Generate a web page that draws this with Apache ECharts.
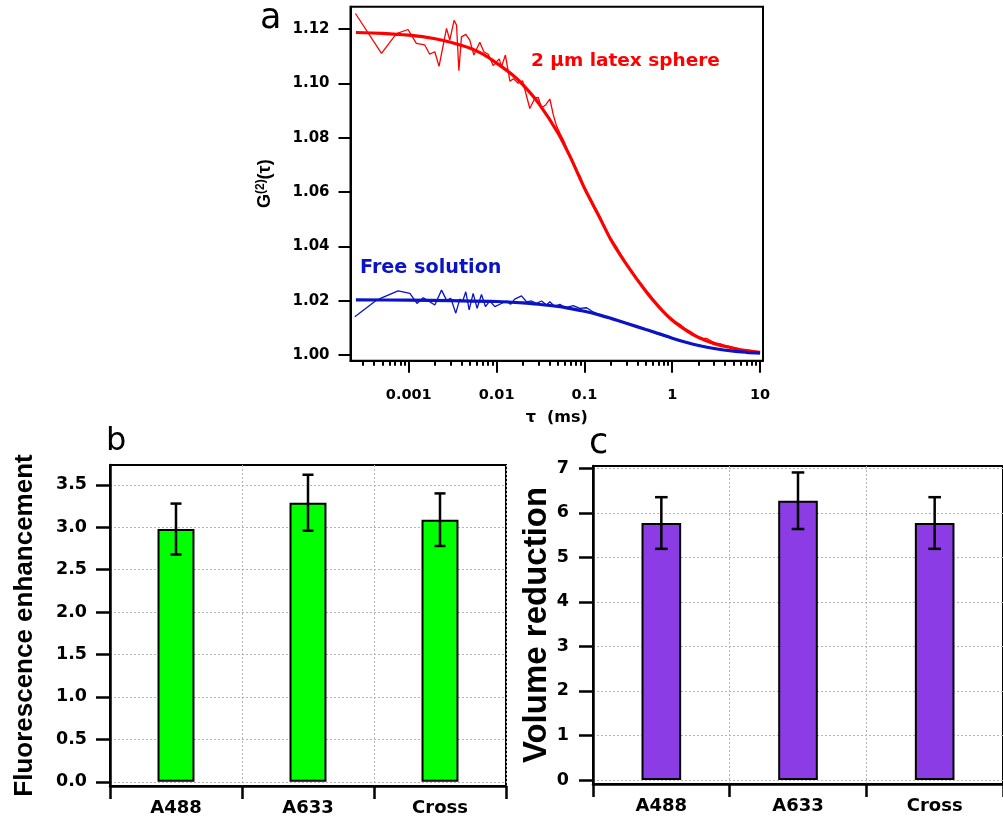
<!DOCTYPE html>
<html><head><meta charset="utf-8">
<script src="https://cdn.jsdelivr.net/npm/echarts@6/dist/echarts.min.js"></script>
<style>html,body{margin:0;padding:0;background:#fff}#c{width:1003px;height:823px}</style>
</head><body><div id="c"></div>
<script>
// ---------- panel a : correlation curves ----------
const redDataTau = [2.47e-4,4.89e-4,7.24e-4,9.8e-4,1.22e-3,1.52e-3,1.73e-3,1.98e-3,2.21e-3,2.69e-3,2.93e-3,3.28e-3,3.50e-3,3.72e-3,3.98e-3,4.46e-3,4.95e-3,5.51e-3,6.44e-3,7.16e-3,8.02e-3,9.14e-3,1.07e-2,1.14e-2,1.26e-2,1.42e-2,1.55e-2,1.76e-2,1.98e-2,2.10e-2,2.39e-2,2.73e-2,2.98e-2,3.25e-2,3.64e-2,4.04e-2,4.41e-2,0.048,0.053,0.058,0.064,0.070,0.077,0.084,0.089,0.095,0.100,0.106,0.113,0.125,0.14,0.155,0.17,0.19,0.21,0.23,0.26,0.29,0.32,0.36,0.40,0.45,0.50,0.56,0.63,0.71,0.80,0.90,1.0,1.12,1.26,1.41,1.58,1.78,2.0,2.24,2.51,2.82,3.16,3.55,3.98,4.47,5.01,5.62,6.31,7.08,7.94,8.91,10.0];
const redDataG = [1.1258,1.1111,1.1184,1.1199,1.1148,1.1142,1.1108,1.1117,1.1063,1.1203,1.1160,1.1233,1.1215,1.1047,1.1172,1.1181,1.1160,1.1105,1.1152,1.1117,1.1108,1.1066,1.1091,1.1063,1.1105,1.1008,1.1018,1.1001,1.1010,1.0977,1.0908,1.0947,1.0949,1.0910,1.0922,1.0943,1.0886,1.0845,1.0815,1.0790,1.0755,1.0730,1.0700,1.0672,1.0660,1.0635,1.0615,1.0593,1.0582,1.0556,1.0528,1.0500,1.0472,1.0440,1.0418,1.0400,1.0368,1.0342,1.0325,1.0300,1.0278,1.0258,1.0240,1.0220,1.0200,1.0180,1.0160,1.0145,1.0133,1.0120,1.0110,1.0096,1.0088,1.0076,1.0068,1.0062,1.0060,1.0050,1.0044,1.0041,1.0034,1.0032,1.0027,1.0023,1.0019,1.0018,1.0014,1.0012,1.0010];
const redFitTau = [0.00025,0.0005,0.001,0.002,0.003,0.005,0.007,0.01,0.015,0.02,0.03,0.05,0.07,0.1,0.15,0.2,0.3,0.5,0.7,1,1.5,2,3,5,7,10];
const redFitG = [1.1188,1.1185,1.1178,1.1165,1.1152,1.1130,1.1108,1.1075,1.1033,1.0995,1.0928,1.0818,1.0725,1.0615,1.0505,1.0425,1.0335,1.0235,1.0178,1.0128,1.0087,1.0064,1.0042,1.0025,1.0016,1.0010];
const blueDataTau = [2.43e-4,4.28e-4,7.55e-4,1.03e-3,1.24e-3,1.46e-3,1.62e-3,1.98e-3,2.36e-3,2.69e-3,3.01e-3,3.43e-3,3.81e-3,4.09e-3,4.46e-3,4.87e-3,5.41e-3,6.0e-3,6.73e-3,7.48e-3,8.37e-3,9.55e-3,1.09e-2,1.30e-2,1.44e-2,1.61e-2,1.92e-2,2.19e-2,2.50e-2,2.85e-2,3.25e-2,3.71e-2,4.04e-2,4.61e-2,5.26e-2,6.0e-2,7.45e-2,8.89e-2,0.106,0.121,0.14,0.16,0.195,0.22,0.26,0.30,0.36,0.43,0.50,0.58,0.66,0.75,0.87,1.0,1.2,1.4,1.7,2.0,2.5,3.0,3.6,4.3,5.2,6.2,7.5,8.9,10];
const blueDataG = [1.0141,1.0202,1.0236,1.0227,1.0190,1.0211,1.0202,1.0184,1.0239,1.0202,1.0209,1.0154,1.0206,1.0196,1.0233,1.0166,1.0227,1.0172,1.0223,1.0178,1.0199,1.0178,1.0187,1.0199,1.0187,1.0206,1.0218,1.0196,1.0199,1.0190,1.0199,1.0184,1.0196,1.0178,1.0187,1.0174,1.0182,1.0172,1.0174,1.0162,1.0152,1.0145,1.0135,1.0130,1.0122,1.0117,1.0108,1.0100,1.0094,1.0085,1.0078,1.0072,1.0066,1.0061,1.0053,1.0047,1.0041,1.0036,1.0029,1.0025,1.0020,1.0017,1.0014,1.0011,1.0009,1.0008,1.0007];
const blueFitTau = [0.00025,0.001,0.003,0.01,0.02,0.03,0.05,0.07,0.1,0.15,0.2,0.3,0.5,0.7,1,1.5,2,3,5,7,10];
const blueFitG = [1.0203,1.0202,1.0200,1.0197,1.0192,1.0187,1.0179,1.0171,1.0161,1.0147,1.0135,1.0117,1.0094,1.0079,1.0062,1.0045,1.0035,1.0024,1.0014,1.0010,1.0007];
const aXMajorTicks = [0.001,0.01,0.1,1,10];
const aXMinorTicks = [3e-4,4e-4,5e-4,6e-4,7e-4,8e-4,9e-4,2e-3,3e-3,4e-3,5e-3,6e-3,7e-3,8e-3,9e-3,0.02,0.03,0.04,0.05,0.06,0.07,0.08,0.09,0.2,0.3,0.4,0.5,0.6,0.7,0.8,0.9,2,3,4,5,6,7,8,9];
const aYTicks = [1.00,1.02,1.04,1.06,1.08,1.10,1.12];

// ---------- panels b, c : bars ----------
const categories = ['A488','A633','Cross'];
const fluorValues = [2.98,3.29,3.09];
const fluorErrors = [0.30,0.33,0.31];
const volumeValues = [5.77,6.27,5.77];
const volumeErrors = [0.58,0.635,0.58];
const bYTicks = [0,0.5,1,1.5,2,2.5,3,3.5];
const cYTicks = [0,1,2,3,4,5,6,7];

const pair = (xs, ys) => xs.map((x, i) => [x, ys[i]]);
const TF = 'DejaVu Sans';
const lab = (size) => ({color:'#000', fontFamily:TF, fontWeight:'bold', fontSize:size});
const BLUE = '#0a14c4', RED = '#ff0000';

function errRender(hw) {
  return function (params, api) {
    const i = api.value(0), v = api.value(1), e = api.value(2);
    const t = api.coord([i, v + e]), b = api.coord([i, v - e]);
    const st = {stroke:'#000', lineWidth:2.5};
    return {type:'group', children:[
      {type:'line', shape:{x1:t[0], y1:t[1], x2:b[0], y2:b[1]}, style:st},
      {type:'line', shape:{x1:t[0]-hw, y1:t[1], x2:t[0]+hw, y2:t[1]}, style:st},
      {type:'line', shape:{x1:b[0]-hw, y1:b[1], x2:b[0]+hw, y2:b[1]}, style:st}
    ]};
  };
}

const grid = [
  {left:350.5, top:6.7, width:412.5, height:354, show:true, borderColor:'#000', borderWidth:2},
  {left:110, top:465, width:396, height:321, show:true, borderColor:'#000', borderWidth:2},
  {left:593, top:466, width:415, height:318, show:true, borderColor:'#000', borderWidth:2}
];

const catAxis = (gi) => ({
  type:'category', gridIndex:gi, data:categories, position:'bottom',
  axisLine:{show:true, onZero:false, lineStyle:{color:'#000', width:2.5}},
  axisTick:{show:true, length:13, lineStyle:{color:'#000', width:2.5}},
  axisLabel:Object.assign(lab(18), {margin:13}),
  splitLine:{show:true, lineStyle:{color:'#b4b4b4', width:1, type:[2,2]}}
});

const option = {
  animation:false,
  backgroundColor:'#fff',
  grid,
  xAxis:[
    {type:'log', gridIndex:0, min:2.17e-4, max:10.8, position:'bottom',
     name:'τ  (ms)', nameLocation:'middle', nameGap:49, nameTextStyle:lab(16),
     axisLine:{show:true, onZero:false, lineStyle:{color:'#000', width:2}},
     axisTick:{show:true, length:12, customValues:aXMajorTicks, lineStyle:{color:'#000', width:2}},
     axisLabel:Object.assign(lab(14.5), {customValues:aXMajorTicks, margin:27, formatter:v => String(+(+v).toPrecision(6))}),
     minorTick:{show:false}, splitLine:{show:false}},
    {type:'log', gridIndex:0, min:2.17e-4, max:10.8, position:'bottom',
     axisLine:{show:false, onZero:false},
     axisTick:{show:true, length:5, customValues:aXMinorTicks, lineStyle:{color:'#000', width:2}},
     axisLabel:{show:false}, splitLine:{show:false}},
    catAxis(1),
    catAxis(2)
  ],
  yAxis:[
    {type:'value', gridIndex:0, min:0.9979, max:1.1283, splitNumber:6,
     name:'{g|G}{s|(2)}{g|(τ)}', nameLocation:'middle', nameGap:74,
     nameTextStyle:{rich:{
       g:{fontFamily:'Liberation Sans', fontWeight:'bold', fontSize:18, color:'#000'},
       s:{fontFamily:'Liberation Sans', fontWeight:'bold', fontSize:12, color:'#000', padding:[0,0,10,0]}}},
     axisLine:{show:true, onZero:false, lineStyle:{color:'#000', width:2}},
     axisTick:{show:true, length:12, customValues:aYTicks, lineStyle:{color:'#000', width:2}},
     axisLabel:Object.assign(lab(15), {customValues:aYTicks, margin:21, formatter:v => (+v).toFixed(2)}),
     splitLine:{show:false}},
    {type:'value', gridIndex:1, min:-0.05, max:3.735, splitNumber:8,
     name:'Fluorescence enhancement', nameLocation:'middle', nameGap:72,
     nameTextStyle:{fontFamily:'Liberation Sans', fontWeight:'bold', fontSize:26, color:'#000'},
     axisLine:{show:true, onZero:false, lineStyle:{color:'#000', width:2.5}},
     axisTick:{show:true, length:14, customValues:bYTicks, lineStyle:{color:'#000', width:2.5}},
     axisLabel:Object.assign(lab(17.5), {customValues:bYTicks, margin:23, formatter:v => (+v).toFixed(1)}),
     splitLine:{show:true, lineStyle:{color:'#b4b4b4', width:1, type:[2,2]}}},
    {type:'value', gridIndex:2, min:-0.09, max:7.05, splitNumber:7,
     name:'Volume reduction', nameLocation:'middle', nameGap:40,
     nameTextStyle:{fontFamily:'Liberation Sans', fontWeight:'bold', fontSize:33, color:'#000'},
     axisLine:{show:true, onZero:false, lineStyle:{color:'#000', width:2.5}},
     axisTick:{show:true, length:14, customValues:cYTicks, lineStyle:{color:'#000', width:2.5}},
     axisLabel:Object.assign(lab(17.5), {customValues:cYTicks, margin:24, formatter:v => String(Math.round(v))}),
     splitLine:{show:true, lineStyle:{color:'#b4b4b4', width:1, type:[2,2]}}}
  ],
  series:[
    {type:'line', xAxisIndex:0, yAxisIndex:0, data:pair(redDataTau, redDataG), showSymbol:false, lineStyle:{color:RED, width:1.3}, z:2},
    {type:'line', xAxisIndex:0, yAxisIndex:0, data:pair(blueDataTau, blueDataG), showSymbol:false, lineStyle:{color:BLUE, width:1.3}, z:2},
    {type:'line', xAxisIndex:0, yAxisIndex:0, data:pair(redFitTau, redFitG), showSymbol:false, smooth:0.3, lineStyle:{color:RED, width:3.2}, z:3},
    {type:'line', xAxisIndex:0, yAxisIndex:0, data:pair(blueFitTau, blueFitG), showSymbol:false, smooth:0.3, lineStyle:{color:BLUE, width:3.2}, z:3},
    {type:'bar', xAxisIndex:2, yAxisIndex:1, data:fluorValues, barWidth:'28%',
     itemStyle:{color:'#00ff00', borderColor:'#000', borderWidth:2}},
    {type:'custom', xAxisIndex:2, yAxisIndex:1, renderItem:errRender(5.5),
     data:categories.map((c, i) => [i, fluorValues[i], fluorErrors[i]]), z:5},
    {type:'bar', xAxisIndex:3, yAxisIndex:2, data:volumeValues, barWidth:'29%',
     itemStyle:{color:'#8b3ce4', borderColor:'#000', borderWidth:2}},
    {type:'custom', xAxisIndex:3, yAxisIndex:2, renderItem:errRender(6.3),
     data:categories.map((c, i) => [i, volumeValues[i], volumeErrors[i]]), z:5}
  ],
  graphic:[
    {type:'text', left:260, top:1, style:{text:'a', fontFamily:TF, fontSize:35, fill:'#000'}},
    {type:'text', left:106, top:426, style:{text:'b', fontFamily:TF, fontSize:32, fill:'#000'}},
    {type:'text', left:589, top:426, style:{text:'c', fontFamily:TF, fontSize:35, fill:'#000'}},
    {type:'text', left:531, top:52, style:{text:'2 μm latex sphere', fontFamily:TF, fontWeight:'bold', fontSize:18.5, fill:RED}},
    {type:'text', left:360, top:259, style:{text:'Free solution', fontFamily:TF, fontWeight:'bold', fontSize:19.2, fill:BLUE}}
  ]
};
const chart = echarts.init(document.getElementById('c'));
chart.setOption(option);
</script></body></html>
